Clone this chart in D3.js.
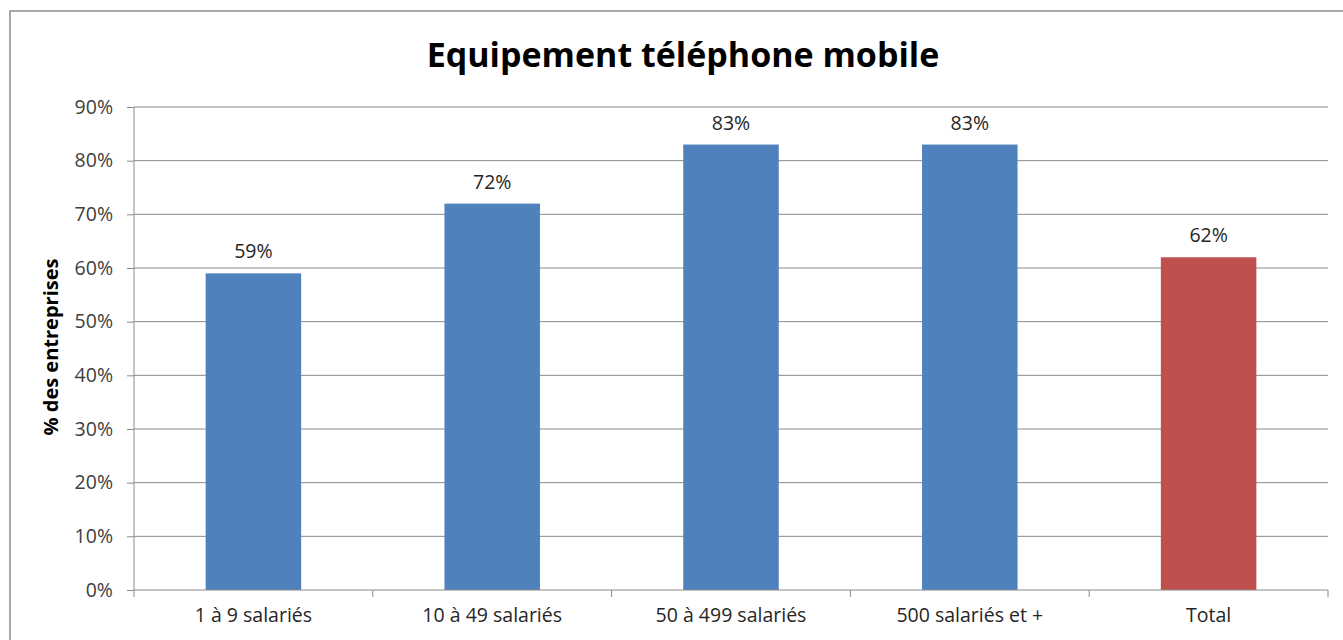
<!DOCTYPE html>
<html><head><meta charset="utf-8">
<script src="https://cdn.jsdelivr.net/npm/d3@7"></script>
<style>body{margin:0;background:#fff;} svg{display:block;font-family:"Open Sans",sans-serif;}</style>
</head><body>
<script>
const categories = ["1 à 9 salariés","10 à 49 salariés","50 à 499 salariés","500 salariés et +","Total"];
const values = [0.59,0.72,0.83,0.83,0.62];
const barColors = ["#4F81BD","#4F81BD","#4F81BD","#4F81BD","#C0504D"];
const yTicks = [0,0.1,0.2,0.3,0.4,0.5,0.6,0.7,0.8,0.9];
const title = "Equipement téléphone mobile";
const yTitle = "% des entreprises";

const W=1343,H=640;
const FF="'Open Sans',sans-serif";
const FS=19.5;
const svg=d3.select("body").append("svg").attr("width",W).attr("height",H);
svg.append("rect").attr("x",10).attr("y",11).attr("width",W).attr("height",H).attr("fill","#fff").attr("stroke","#8c8c8c").attr("stroke-width",1.5);

const L=134,R=1328,T=107,B=590;
const x=d3.scaleBand().domain(categories).range([L,R]).paddingInner(0).paddingOuter(0);
const y=d3.scaleLinear().domain([0,0.9]).range([B,T]);

svg.append("g").selectAll("line").data(yTicks.filter(d=>d>0)).join("line")
 .attr("x1",L).attr("x2",R).attr("y1",d=>y(d)).attr("y2",d=>y(d))
 .attr("stroke","#8a8a8a").attr("stroke-width",1);

const bw=x.bandwidth()*0.4;
svg.append("g").selectAll("rect").data(values).join("rect")
 .attr("x",(d,i)=>x(categories[i])+x.bandwidth()/2-bw/2)
 .attr("width",bw).attr("y",d=>y(d)).attr("height",d=>B-y(d))
 .attr("fill",(d,i)=>barColors[i]);

svg.append("g").selectAll("text").data(values).join("text")
 .attr("x",(d,i)=>x(categories[i])+x.bandwidth()/2).attr("y",d=>y(d)-15)
 .attr("text-anchor","middle").attr("font-size",FS).attr("fill","#262626")
 .text(d=>Math.round(d*100)+"%");

const yAxis=d3.axisLeft(y).tickValues(yTicks).tickFormat(d=>Math.round(d*100)+"%").tickSize(7).tickPadding(14);
const gy=svg.append("g").attr("transform",`translate(${L},0)`).call(yAxis);
gy.select(".domain").attr("stroke","#8a8a8a").attr("d",`M-0,${T}V${B}`);
gy.selectAll(".tick line").attr("stroke","#8a8a8a");
gy.selectAll(".tick text").attr("font-size",FS).attr("fill","#404040").attr("font-family",FF);

const xAxis=d3.axisBottom(x).tickSize(0).tickPadding(18);
const gx=svg.append("g").attr("transform",`translate(0,${B})`).call(xAxis);
gx.select(".domain").attr("stroke","#8a8a8a").attr("d",`M${L},0H${R}`);
gx.selectAll(".tick text").attr("font-size",FS).attr("fill","#262626").attr("font-family",FF);
svg.append("g").selectAll("line").data(d3.range(categories.length+1)).join("line")
 .attr("x1",i=>L+i*x.step()).attr("x2",i=>L+i*x.step()).attr("y1",B).attr("y2",B+7)
 .attr("stroke","#8a8a8a");

svg.append("text").attr("x",683).attr("y",67).attr("text-anchor","middle")
 .attr("font-size",34).attr("font-weight","bold").attr("fill","#000").text(title);
svg.append("text").attr("transform","translate(58,347) rotate(-90)").attr("text-anchor","middle")
 .attr("font-size",20).attr("font-weight","bold").attr("fill","#000").text(yTitle);
</script>
</body></html>
